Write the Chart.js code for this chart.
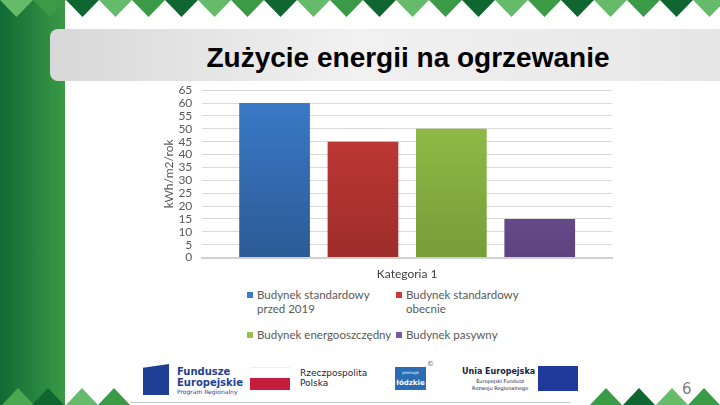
<!DOCTYPE html>
<html lang="pl">
<head>
<meta charset="utf-8">
<script src="https://cdn.jsdelivr.net/npm/chart.js@4.4.1/dist/chart.umd.min.js"></script>
<style>
  body{ margin:0; }
  #slajd{ position:relative; width:720px; height:405px; background:#fff; overflow:hidden; font-family:Lato, "Open Sans", sans-serif; }
  #pasek{ position:absolute; left:0; top:0; width:65px; height:405px; background:linear-gradient(to right,#0f6a35,#3a9a45); }
  #trojkaty, #trojkatyDol{ position:absolute; left:0; width:720px; }
  #trojkaty{ top:0; height:18px; }
  #trojkatyDol{ bottom:0; height:20px; }
  #tytulTlo{ position:absolute; left:50px; top:29px; width:680px; height:52px; border-radius:8px;
    background:linear-gradient(to right,#d8d8d8,#f1f1f1 45%,#e6e6e6); }
  #tytul{ position:absolute; left:50px; top:29px; width:716px; height:52px; line-height:58px; text-align:center;
    font-family:"Liberation Sans", Arial, sans-serif; font-weight:bold; font-size:28px; color:#000; }
  #wykres{ position:absolute; left:162px; top:73px; width:458px; height:209px; }
  #legenda{ position:absolute; left:247px; top:288px; width:310px; font-size:11.5px; color:#595959; line-height:14px;
    display:grid; grid-template-columns:149px 149px; row-gap:12px; }
  .poz{ display:flex; align-items:flex-start; }
  .poz span:last-child{ max-width:140px; }
  .znak{ width:6px; height:6px; margin:4px 4px 0 0; flex:none; }
  #linia{ position:absolute; left:130px; top:402px; width:440px; height:1px; background:#c8c8c8; }
  .fe{ position:absolute; left:143px; top:364px; width:26px; height:31px; background:#1f3f95; clip-path:polygon(0 12%,100% 0,100% 100%,0 100%); }
  .txt{ position:absolute; font-family:"DejaVu Sans", sans-serif; color:#1c1c3c; white-space:nowrap; }
  #numer{ position:absolute; left:682px; top:380px; font-size:15px; color:#7f7f7f; font-family:"DejaVu Sans", sans-serif; }
</style>
</head>
<body>
<div id="slajd">
  <div id="pasek"></div>
  <svg id="trojkaty"></svg>
  <svg id="trojkatyDol"></svg>
  <div id="tytulTlo"></div>
  <div id="tytul">Zużycie energii na ogrzewanie</div>
  <div id="wykres"><canvas id="graf"></canvas></div>
  <div id="legenda"></div>

  <div id="linia"></div>
  <div class="fe"></div>
  <div class="txt" style="left:177px;top:366px;font-size:10px;line-height:11px;font-weight:bold;color:#1f3f95">Fundusze<br>Europejskie</div>
  <div class="txt" style="left:177px;top:388px;font-size:6px;color:#1f3f95">Program Regionalny</div>
  <div style="position:absolute;left:250px;top:367px;width:40px;height:11px;background:#fff;border-top:1px solid #eee"></div>
  <div style="position:absolute;left:250px;top:378px;width:40px;height:12px;background:#c41e3a"></div>
  <div class="txt" style="left:300px;top:368px;font-size:9px;line-height:10px">Rzeczpospolita<br>Polska</div>
  <div style="position:absolute;left:395px;top:367px;width:31px;height:23px;background:#2a6db5;color:#fff;font-family:'DejaVu Sans';font-weight:bold;font-size:7px;line-height:10px;text-align:center"><span style="font-size:4px;font-weight:normal">promuje</span><br>łódzkie</div>
  <div class="txt" style="left:427px;top:360px;font-size:7px;color:#666">©</div>
  <div class="txt" style="left:462px;top:367px;font-size:8px;font-weight:bold">Unia Europejska</div>
  <div class="txt" style="left:472px;top:378px;font-size:5px;line-height:7px;text-align:center">Europejski Fundusz<br>Rozwoju Regionalnego</div>
  <div style="position:absolute;left:538px;top:366px;width:40px;height:25px;background:#1f3a9a"></div>
  <div id="numer">6</div>
</div>

<script>
// dane wykresu
const kategorie = ['Kategoria 1'];
const serie = [
  'Budynek standardowy przed 2019',
  'Budynek standardowy obecnie',
  'Budynek energooszczędny',
  'Budynek pasywny'
];
const wartosci = [60, 45, 50, 15];
const kolory = ['#3a7bca', '#c93b38', '#96c24a', '#7a5aa3'];
const koloryDol = ['#2c5b96', '#9e2d2b', '#779d39', '#5c4480'];
const osY = { min: 0, max: 65, krok: 5, tytul: 'kWh/m2/rok' };

// trojkaty u gory i na dole
const zielenie = ['#66bb6a', '#3a9a45', '#0f6630'];
let svg = '';
for(let i = 0; i < 23; i++){
  const x = i * 33;
  svg += `<polygon points="${x},0 ${x + 33},0 ${x + 16.5},17" fill="${zielenie[i % 3]}"/>`;
}
document.getElementById('trojkaty').innerHTML = svg;

const dol = [[2, '#4aa852'], [32, '#0f6630'], [66, '#66bb6a'], [98, '#3a9a45'],
             [590, '#3a9a45'], [623, '#0f6630'], [656, '#66bb6a'], [688, '#3a9a45']];
svg = '';
dol.forEach(([x, c]) => {
  svg += `<polygon points="${x},20 ${x + 32},20 ${x + 16},3" fill="${c}"/>`;
});
document.getElementById('trojkatyDol').innerHTML = svg;

// legenda
const legenda = document.getElementById('legenda');
serie.forEach((s, i) => {
  legenda.innerHTML +=
    `<div class="poz"><span class="znak" style="background:${kolory[i]}"></span><span>${s}</span></div>`;
});

function gradient(ctx, i){
  const area = ctx.chart.chartArea;
  if(!area) return kolory[i];
  const g = ctx.chart.ctx.createLinearGradient(0, area.top, 0, area.bottom);
  g.addColorStop(0, kolory[i]);
  g.addColorStop(1, koloryDol[i]);
  return g;
}

new Chart(document.getElementById('graf'), {
  type: 'bar',
  data: {
    labels: kategorie,
    datasets: serie.map((s, i) => ({
      label: s,
      data: [wartosci[i]],
      backgroundColor: ctx => gradient(ctx, i),
      borderWidth: 0,
      categoryPercentage: 0.863,
      barPercentage: 0.8
    }))
  },
  options: {
    responsive: true,
    maintainAspectRatio: false,
    animation: false,
    layout: { padding: { top: 4, right: 8, left: 0, bottom: 0 } },
    plugins: {
      legend: { display: false },
      tooltip: { enabled: false }
    },
    scales: {
      x: {
        grid: { display: false },
        border: { color: '#d0d0d0', width: 2 },
        ticks: { color: '#404040', font: { family: 'Lato', size: 12 }, padding: 1 }
      },
      y: {
        min: osY.min,
        max: osY.max,
        ticks: { stepSize: osY.krok, autoSkip: false, color: '#595959', font: { family: 'Lato', size: 12 }, padding: 10 },
        grid: { color: '#d9d9d9', drawTicks: false },
        border: { display: false },
        title: { display: true, text: osY.tytul, color: '#595959', font: { family: 'Lato', size: 12 }, padding: { top: 0, bottom: -8 } }
      }
    }
  }
});
</script>
</body>
</html>
